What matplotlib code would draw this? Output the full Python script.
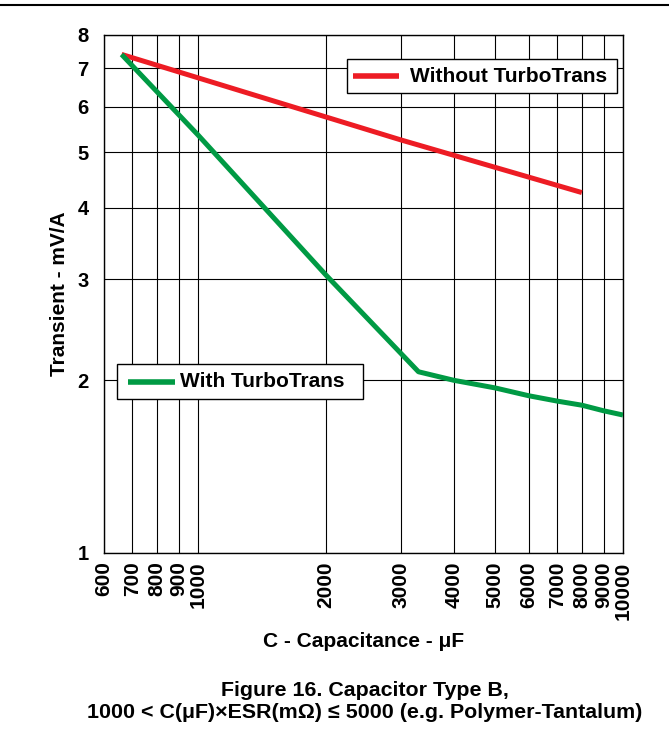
import numpy as np
import matplotlib
matplotlib.use("Agg")
import matplotlib.pyplot as plt
from matplotlib.lines import Line2D
from matplotlib.patches import Rectangle
from matplotlib.ticker import FixedLocator, NullLocator, NullFormatter

plt.rcParams['font.family'] = ['Liberation Sans', 'DejaVu Sans']
plt.rcParams['font.weight'] = 'bold'

# Capacitance (uF) vs transient (mV/A)
cap_without = [660, 3000, 8000]
tr_without = [7.4, 5.25, 4.25]

cap_with = [660, 1000, 2000, 3300, 4000, 5000, 6000, 7000, 8000, 9000, 10000]
tr_with = [7.4, 5.35, 3.05, 2.07, 2.0, 1.94, 1.88, 1.84, 1.81, 1.77, 1.74]

x_ticks = [600, 700, 800, 900, 1000, 2000, 3000, 4000, 5000, 6000, 7000, 8000, 9000, 10000]
y_ticks = [1, 2, 3, 4, 5, 6, 7, 8]

red = '#ed1c24'
green = '#009a44'

# axes box in pixels (left, top, right, bottom)
AX_L, AX_T, AX_R, AX_B = 104, 35, 623, 553

fig = plt.figure(figsize=(6.69, 7.42), dpi=100)
ax = fig.add_axes([AX_L / 669, 1 - AX_B / 742, (AX_R - AX_L) / 669, (AX_B - AX_T) / 742])


def fx(px):
    return (px - AX_L) / (AX_R - AX_L)


def fy(py):
    return (AX_B - py) / (AX_B - AX_T)


ax.plot(cap_without, tr_without, color=red, lw=3.6, solid_capstyle='butt', zorder=3)
ax.plot(cap_with, tr_with, color=green, lw=3.6, solid_capstyle='butt', zorder=3)

ax.set_xscale('log')
ax.set_yscale('log')
ax.set_xlim(600, 10000)
ax.set_ylim(1, 8)

ax.xaxis.set_major_locator(FixedLocator(x_ticks))
ax.xaxis.set_minor_locator(NullLocator())
ax.xaxis.set_minor_formatter(NullFormatter())
ax.set_xticklabels([str(t) for t in x_ticks], rotation=90, fontsize=15, fontweight='bold')
ax.yaxis.set_major_locator(FixedLocator(y_ticks))
ax.yaxis.set_minor_locator(NullLocator())
ax.yaxis.set_minor_formatter(NullFormatter())
ax.set_yticklabels([str(t) for t in y_ticks], fontsize=14.5, fontweight='bold')
ax.tick_params(axis='both', length=0)
ax.tick_params(axis='x', pad=6)
ax.tick_params(axis='y', pad=11)

ax.grid(True, which='major', color='black', lw=0.8)
for s in ax.spines.values():
    s.set_linewidth(1.0)

ax.set_xlabel('C - Capacitance - \u03bcF', fontsize=15, fontweight='bold', labelpad=9)
ax.set_ylabel('Transient - mV/A', fontsize=15, fontweight='bold', labelpad=6)


def key(box, handle, text_x, label, color):
    x0, y0, x1, y1 = box
    ax.add_patch(Rectangle((fx(x0), fy(y1)), fx(x1) - fx(x0), fy(y0) - fy(y1),
                           transform=ax.transAxes, facecolor='white', edgecolor='black',
                           lw=1.0, zorder=5))
    yc = fy((y0 + y1) / 2)
    ax.add_line(Line2D([fx(handle[0]), fx(handle[1])], [yc, yc], transform=ax.transAxes,
                       color=color, lw=4, solid_capstyle='butt', zorder=6))
    ax.text(fx(text_x), yc, label, transform=ax.transAxes, ha='left', va='center',
            fontsize=15, fontweight='bold', zorder=6)


key((347, 59, 617, 93), (353, 399), 410, 'Without TurboTrans', red)
key((117, 364, 363, 399), (128, 175), 180, 'With TurboTrans', green)

# rule at top of page
fig.add_artist(Line2D([0, 1], [1 - 5 / 742, 1 - 5 / 742], color='black', lw=1.5))

fig.text(365 / 669, 1 - 690 / 742, 'Figure 16. Capacitor Type B,', ha='center', va='center',
         fontsize=15.4, fontweight='bold')
fig.text(365 / 669, 1 - 713 / 742,
         '1000 < C(\u03bcF)\u00d7ESR(m\u03a9) \u2264 5000 (e.g. Polymer-Tantalum)',
         ha='center', va='center', fontsize=15.4, fontweight='bold')

fig.savefig('out.png', dpi=100)
